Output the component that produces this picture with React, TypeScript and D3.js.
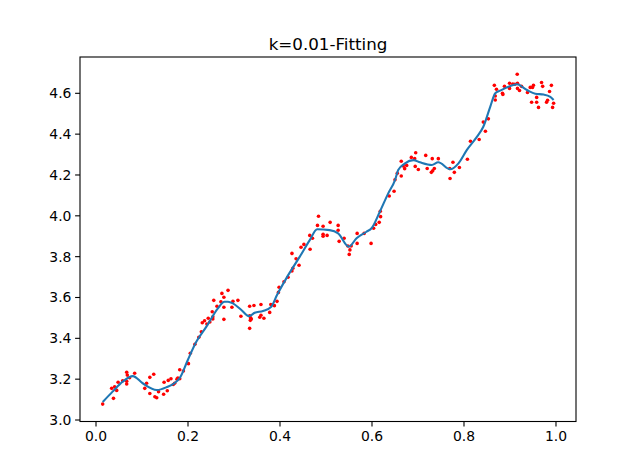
import React from "react";
import * as d3 from "d3";

// scattered samples (x, y)
const sampleX = [
  0.0145, 0.034, 0.038, 0.0405, 0.045, 0.048, 0.058, 0.0667, 0.068, 0.0667, 0.0667, 0.073, 0.084,
  0.106, 0.11, 0.117, 0.1255, 0.117, 0.128, 0.132, 0.136, 0.147, 0.148, 0.155, 0.157, 0.163, 0.168,
  0.171, 0.176, 0.178, 0.182, 0.182, 0.19, 0.201, 0.205, 0.215, 0.2235, 0.229, 0.231, 0.236, 0.241,
  0.244, 0.2475, 0.254, 0.254, 0.2527, 0.256, 0.263, 0.2715, 0.2737, 0.278, 0.278, 0.278, 0.287,
  0.2955, 0.2977, 0.3085, 0.315, 0.334, 0.3434, 0.334, 0.336, 0.3377, 0.3355, 0.334, 0.3586, 0.356,
  0.3586, 0.365, 0.3776, 0.38, 0.3878, 0.3935, 0.398, 0.3965, 0.4087, 0.4175, 0.426, 0.428, 0.426,
  0.435, 0.4414, 0.4457, 0.452, 0.4654, 0.4647, 0.4706, 0.4815, 0.4837, 0.4937, 0.4937, 0.4937,
  0.5024, 0.509, 0.5264, 0.5264, 0.5286, 0.5394, 0.5475, 0.5547, 0.552, 0.5505, 0.5677, 0.5677,
  0.583, 0.598, 0.6035, 0.608, 0.6157, 0.6187, 0.618, 0.6375, 0.648, 0.65, 0.655, 0.6636, 0.6636,
  0.668, 0.671, 0.6754, 0.6855, 0.6928, 0.695, 0.694, 0.7007, 0.7168, 0.72, 0.729, 0.732, 0.731,
  0.7355, 0.7442, 0.769, 0.776, 0.779, 0.7697, 0.79, 0.8074, 0.814, 0.833, 0.8466, 0.842, 0.853,
  0.866, 0.8706, 0.868, 0.868, 0.8837, 0.888, 0.8845, 0.899, 0.899, 0.906, 0.9107, 0.9157, 0.9163,
  0.9207, 0.9163, 0.925, 0.938, 0.944, 0.951, 0.949, 0.947, 0.958, 0.958, 0.962, 0.9686, 0.971,
  0.986, 0.9795, 0.9817, 0.99, 0.9948, 0.9926,
];
const sampleY = [
  3.078, 3.155, 3.106, 3.163, 3.145, 3.185, 3.192, 3.234, 3.22, 3.19, 3.176, 3.207, 3.229,
  3.155, 3.18, 3.209, 3.224, 3.13, 3.114, 3.109, 3.139, 3.126, 3.185, 3.143, 3.194, 3.202, 3.174,
  3.18, 3.2, 3.206, 3.202, 3.246, 3.24, 3.276, 3.327, 3.371, 3.405, 3.432, 3.476, 3.486, 3.47,
  3.498, 3.48, 3.506, 3.495, 3.53, 3.586, 3.557, 3.579, 3.62, 3.601, 3.552, 3.493, 3.635,
  3.552, 3.581, 3.586, 3.508, 3.557, 3.561, 3.51, 3.5, 3.495, 3.488, 3.449, 3.566, 3.503,
  3.513, 3.498, 3.527, 3.566, 3.56, 3.581, 3.65, 3.625, 3.677, 3.699, 3.73, 3.743, 3.816,
  3.79, 3.758, 3.846, 3.86, 3.836, 3.904, 3.89, 3.953, 3.998, 3.949, 3.91, 3.9,
  3.904, 3.968, 3.953, 3.929, 3.875, 3.89, 3.852, 3.852, 3.833, 3.811, 3.914, 3.865,
  3.914, 3.865, 3.939, 3.958, 3.968, 3.996, 4.022, 4.097, 4.12, 4.177, 4.208, 4.195, 4.267,
  4.244, 4.231, 4.247, 4.286, 4.28, 4.309, 4.242, 4.227, 4.296, 4.232, 4.213, 4.221, 4.28,
  4.232, 4.28, 4.232, 4.262, 4.213, 4.183, 4.237, 4.277, 4.365, 4.374, 4.414, 4.459, 4.475,
  4.639, 4.62, 4.567, 4.587, 4.6, 4.634, 4.594, 4.649, 4.624, 4.645, 4.644, 4.693, 4.649,
  4.614, 4.624, 4.634, 4.604, 4.629, 4.639, 4.629, 4.556, 4.58, 4.556, 4.531, 4.653, 4.634,
  4.609, 4.556, 4.566, 4.639, 4.551, 4.531,
];

// fitted curve
const fitX = [
  0.0145, 0.036, 0.058, 0.08, 0.1015, 0.132, 0.1525, 0.1815, 0.1996, 0.218, 0.24, 0.265, 0.2795,
  0.287, 0.2977, 0.316, 0.3325, 0.345, 0.363, 0.381, 0.3935, 0.414, 0.443, 0.4647, 0.4807, 0.508,
  0.5264, 0.5497, 0.5664, 0.588, 0.599, 0.617, 0.6353, 0.65, 0.657, 0.6717, 0.69, 0.7044, 0.73,
  0.744, 0.7697, 0.788, 0.806, 0.828, 0.842, 0.857, 0.868, 0.8786, 0.9076, 0.915, 0.937, 0.955,
  0.973, 0.9876, 0.9948,
];
const fitY = [
  3.088, 3.139, 3.188, 3.215, 3.18, 3.147, 3.16, 3.204, 3.294, 3.383, 3.457, 3.547, 3.579,
  3.579, 3.571, 3.539, 3.509, 3.525, 3.534, 3.555, 3.612, 3.695, 3.8, 3.881, 3.934, 3.93,
  3.914, 3.849, 3.89, 3.922, 3.939, 4.02, 4.11, 4.175, 4.224, 4.257, 4.273, 4.262, 4.249,
  4.262, 4.228, 4.257, 4.322, 4.387, 4.436, 4.534, 4.6, 4.613, 4.641, 4.644, 4.616, 4.598,
  4.594, 4.583, 4.567,
];

const xTicks = [0.0, 0.2, 0.4, 0.6, 0.8, 1.0];
const yTicks = [3.0, 3.2, 3.4, 3.6, 3.8, 4.0, 4.2, 4.4, 4.6];

const title = "k=0.01-Fitting";

export default function App() {
  const width = 640;
  const height = 473;
  const left = 80, right = 576, top = 57, bottom = 421.5;

  const x = d3.scaleLinear().domain([-0.0348, 1.0435]).range([left, right]);
  const y = d3.scaleLinear().domain([2.9927, 4.7778]).range([bottom, top]);

  const fit = fitX.map((d, i) => [d, fitY[i]] as [number, number]);
  const line = d3
    .line<[number, number]>()
    .x((d) => x(d[0]))
    .y((d) => y(d[1]))
    .curve(d3.curveMonotoneX);

  const font = "DejaVu Sans, sans-serif";

  return (
    <svg
      width={width}
      height={height}
      style={{ position: "absolute", left: 0, top: 0, background: "#fff" }}
      fontFamily={font}
    >
      <rect x={0} y={0} width={width} height={height} fill="#fff" />
      {sampleX.map((d, i) => (
        <circle key={i} cx={x(d)} cy={y(sampleY[i])} r={1.8} fill="red" />
      ))}
      <path d={line(fit) || ""} fill="none" stroke="#1f77b4" strokeWidth={2.1} />

      <rect
        x={left}
        y={top}
        width={right - left}
        height={bottom - top}
        fill="none"
        stroke="#000"
        strokeWidth={1.1}
      />

      {xTicks.map((t) => (
        <g key={"x" + t} transform={`translate(${x(t)},${bottom})`}>
          <line y2={4.9} stroke="#000" strokeWidth={1.1} />
          <text y={19.5} textAnchor="middle" fontSize={13.9} fill="#000">
            {t.toFixed(1)}
          </text>
        </g>
      ))}
      {yTicks.map((t) => (
        <g key={"y" + t} transform={`translate(${left},${y(t)})`}>
          <line x2={-4.9} stroke="#000" strokeWidth={1.1} />
          <text x={-8.6} dy="0.35em" textAnchor="end" fontSize={13.9} fill="#000">
            {t.toFixed(1)}
          </text>
        </g>
      ))}

      <text x={(left + right) / 2} y={50} textAnchor="middle" fontSize={16.7} fill="#000">
        {title}
      </text>
    </svg>
  );
}
